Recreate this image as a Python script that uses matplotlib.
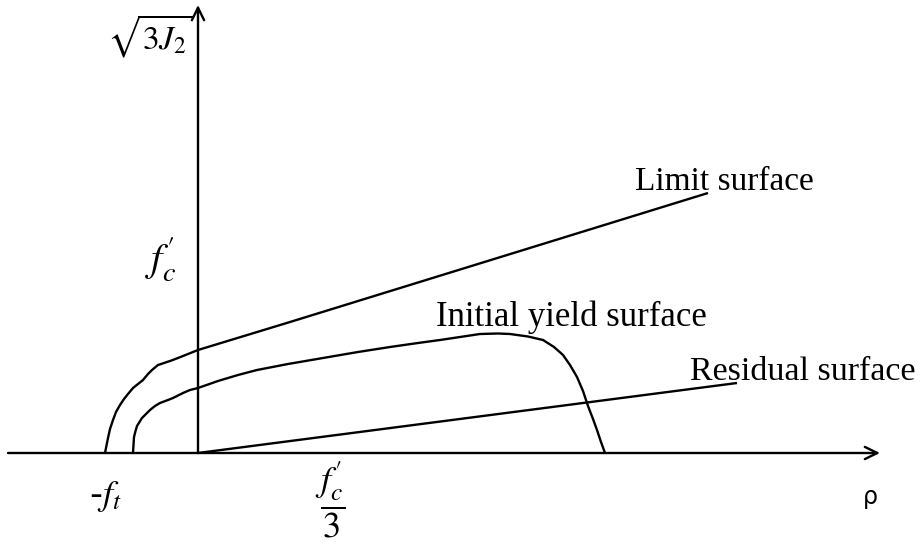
import matplotlib
matplotlib.use("Agg")
import matplotlib.pyplot as plt
from matplotlib.patches import FancyArrowPatch

plt.rcParams['mathtext.fontset'] = 'stix'

# ---- data (schematic units; origin at axes crossing) ----
limit_x = [-93, -92, -90, -88, -85, -82, -78, -74, -70, -65, -60, -55, -50,
           -46, -40, -34, -28, -20, -10, 0, 92, 510]
limit_y = [0, 5, 15, 24, 33, 41, 48, 54, 59, 65, 69, 73, 79,
           83, 88, 90, 92, 95, 99, 103, 131, 260]

yield_x = [-65, -64.5, -64, -62.5, -61, -58.5, -56, -52, -48, -43, -38, -30,
           -25, -15, -8, 0, 20, 40, 59, 90, 125, 160, 192, 220, 242, 262,
           282, 300, 312, 330, 345, 356, 365, 372, 379, 385, 390, 395, 399,
           403, 407]
yield_y = [0, 8, 16, 22, 27, 31, 35, 39, 43, 47, 50, 53,
           55, 60, 63, 65, 72, 78, 83, 89, 95, 101, 106, 110, 113, 116,
           119, 119.5, 119, 116.5, 113, 106, 98, 88, 76, 62, 47, 34, 23,
           11, 0]

resid_x = [0, 539]
resid_y = [0, 70]

x_axis = [-190, 682]
y_axis = [0, 448]

labels_curves = ["Limit surface", "Initial yield surface", "Residual surface"]
label_pos = [(437, 263), (238, 127), (492, 73)]
label_size = [24, 25, 24.5]

fig = plt.figure(figsize=(9.22, 5.48), dpi=100)
ax = fig.add_axes([0, 0, 1, 1])
ax.set_xlim(-198, 724)
ax.set_ylim(-95, 453)
ax.axis('off')

lw = 1.7
for xs, ys in [(limit_x, limit_y), (yield_x, yield_y), (resid_x, resid_y)]:
    ax.plot(xs, ys, color='black', lw=lw, solid_capstyle='butt',
            solid_joinstyle='round')

# axes with open arrowheads
style = "->,head_length=0.45,head_width=0.22"
ax.add_patch(FancyArrowPatch((x_axis[0], 0), (x_axis[1], 0), arrowstyle=style,
                             mutation_scale=20, lw=lw, color='black', shrinkA=0, shrinkB=0))
ax.add_patch(FancyArrowPatch((0, y_axis[0]), (0, y_axis[1]), arrowstyle=style,
                             mutation_scale=20, lw=lw, color='black', shrinkA=0, shrinkB=0))

serif = 'Liberation Serif'
for txt, (x, y), s in zip(labels_curves, label_pos, label_size):
    ax.text(x, y, txt, fontsize=s, family=serif, ha='left', va='baseline')

ax.text(-48, 417, r"$\sqrt{3J_2}$", fontsize=24, ha='center', va='center')
ax.text(-37, 193, r"$f_c^{\prime}$", fontsize=29, ha='center', va='center')
ax.text(132, -47, r"$\dfrac{f_c^{\prime}}{3}$", fontsize=26, ha='center', va='center')
ax.text(-93, -44, r"-$f_t$", fontsize=26, ha='center', va='center')
ax.text(672, -44, "ρ", fontsize=17, family='DejaVu Sans', ha='center', va='center')

fig.savefig("out.png", dpi=100)
